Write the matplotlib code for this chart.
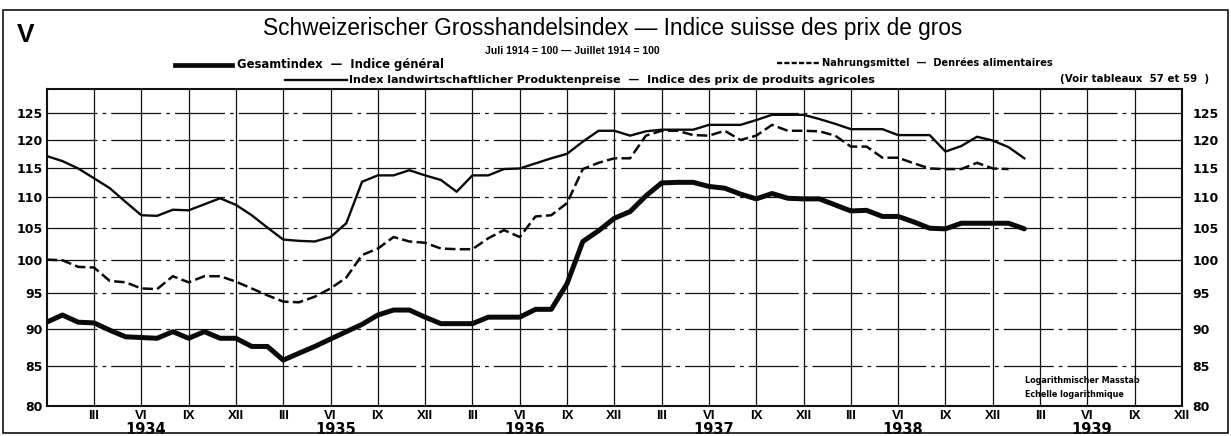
import numpy as np
import matplotlib
matplotlib.use("Agg")
import matplotlib.pyplot as plt
from matplotlib import font_manager
from matplotlib.lines import Line2D
from matplotlib.patches import Rectangle
from matplotlib.ticker import NullLocator, NullFormatter, FixedLocator

# ---------------- data (monthly, index 0 = Dec 1933) ----------------
gesamtindex = [90.9, 91.9, 90.9, 90.8, 89.8, 88.9, 88.8, 88.7, 89.6, 88.7,
               89.6, 88.7, 88.7, 87.6, 87.6, 85.8, 86.7, 87.6, 88.6, 89.6,
               90.6, 91.9, 92.6, 92.6, 91.6, 90.7, 90.7, 90.7, 91.6, 91.6,
               91.6, 92.7, 92.7, 96.4, 102.8, 104.5, 106.5, 107.6, 110.2, 112.4,
               112.5, 112.5, 111.8, 111.5, 110.5, 109.7, 110.6, 109.8, 109.7, 109.7,
               108.7, 107.7, 107.8, 106.8, 106.8, 105.9, 104.9, 104.8, 105.7, 105.7,
               105.7, 105.7, 104.8]
nahrungsmittel = [100.0, 99.9, 98.9, 98.8, 96.8, 96.6, 95.7, 95.6, 97.5, 96.6,
                  97.5, 97.5, 96.7, 95.7, 94.7, 93.8, 93.7, 94.5, 95.7, 97.3,
                  100.7, 101.7, 103.5, 102.8, 102.6, 101.7, 101.6, 101.6, 103.3, 104.6,
                  103.5, 106.8, 107.0, 109.0, 114.8, 115.9, 116.7, 116.7, 120.8, 121.7,
                  121.7, 120.9, 120.8, 121.7, 120.0, 120.8, 122.8, 121.7, 121.7, 121.6,
                  120.8, 118.8, 118.8, 116.8, 116.8, 115.8, 114.9, 114.8, 114.8, 115.9,
                  114.9, 114.8]
landwirtschaft = [117.1, 116.2, 114.9, 113.2, 111.5, 109.2, 107.0, 106.9, 107.9, 107.8,
                  108.8, 109.8, 108.7, 107.0, 105.0, 103.1, 102.9, 102.8, 103.5, 105.7,
                  112.6, 113.7, 113.7, 114.6, 113.7, 112.9, 110.9, 113.7, 113.7, 114.8,
                  114.9, 115.8, 116.7, 117.5, 119.7, 121.7, 121.7, 120.8, 121.6, 121.9,
                  121.9, 121.9, 122.8, 122.8, 122.8, 123.7, 124.7, 124.7, 124.7, 123.9,
                  123.0, 122.0, 122.0, 122.0, 120.9, 120.9, 120.9, 117.9, 118.9, 120.6,
                  119.9, 118.7, 116.7]

month_labels = ["III", "VI", "IX", "XII"] * 6
years = ["1934", "1935", "1936", "1937", "1938", "1939"]
y_ticks = [80, 85, 90, 95, 100, 105, 110, 115, 120, 125]

# ---------------- fonts ----------------
names = {f.name for f in font_manager.fontManager.ttflist}
NARROW = "Liberation Sans Narrow" if "Liberation Sans Narrow" in names else "Liberation Sans"
WIDE = "DejaVu Sans"

W, H = 1231, 436
fig = plt.figure(figsize=(W / 100, H / 100), dpi=100)
fig.patch.set_facecolor("white")
renderer = fig.canvas.get_renderer()

L, R, T, B = 46.7, 1182, 89, 406
ax = fig.add_axes([L / W, 1 - B / H, (R - L) / W, (B - T) / H])
ax.set_yscale("log")
ax.set_xlim(0, 72)
ax.set_ylim(80, 129.7)

# grid
for xv in range(3, 72, 3):
    ax.axvline(xv, color="#111111", lw=0.9, zorder=1)
for yv in y_ticks[1:]:
    ax.axhline(yv, color="#111111", lw=0.9, ls=(0, (40, 4, 3, 4)), zorder=1)

# series
xg = np.arange(len(gesamtindex))
xn = np.arange(len(nahrungsmittel))
xl = np.arange(len(landwirtschaft))
ax.plot(xl, landwirtschaft, color="#0a0a0a", lw=1.7, solid_joinstyle="round", zorder=3)
ax.plot(xn, nahrungsmittel, color="#0a0a0a", lw=1.8, ls=(0, (4.2, 1.7)), zorder=3)
ax.plot(xg, gesamtindex, color="#0a0a0a", lw=3.6, solid_joinstyle="round",
        solid_capstyle="round", zorder=4)

for s in ax.spines.values():
    s.set_linewidth(1.5)
    s.set_color("#111111")

# y ticks (both sides)
ax.yaxis.set_major_locator(FixedLocator(y_ticks))
ax.yaxis.set_minor_locator(NullLocator())
ax.yaxis.set_minor_formatter(NullFormatter())
ax.set_yticklabels([str(v) for v in y_ticks])
ax.tick_params(axis="y", length=0, pad=2.7, labelsize=9)
for t in ax.get_yticklabels():
    t.set_fontweight("bold")
    t.set_family(WIDE)

twin = ax.twinx()
twin.set_yscale("log")
twin.set_ylim(ax.get_ylim())
twin.yaxis.set_major_locator(FixedLocator(y_ticks))
twin.yaxis.set_minor_locator(NullLocator())
twin.yaxis.set_minor_formatter(NullFormatter())
twin.set_yticklabels([str(v) for v in y_ticks])
twin.tick_params(axis="y", length=0, pad=7.5, labelsize=9)
for t in twin.get_yticklabels():
    t.set_fontweight("bold")
    t.set_family(WIDE)
for s in twin.spines.values():
    s.set_visible(False)

# x ticks
ax.set_xticks(range(3, 73, 3))
ax.set_xticklabels(month_labels)
ax.tick_params(axis="x", length=0, pad=3)
for t in ax.get_xticklabels():
    t.set_family(NARROW)
    t.set_fontweight("bold")
    t.set_fontsize(9.5)

year_tf = matplotlib.transforms.blended_transform_factory(ax.transData, ax.transAxes)
for i, yr in enumerate(years):
    ax.text(6.3 + 12 * i, -(429 - B) / (B - T), yr, transform=year_tf, ha="center",
            va="center", fontsize=10.5, fontweight="bold", family=WIDE)


def put(x, y, s, width=None, size=10, ha="left", va="baseline", **kw):
    t = fig.text(x / W, 1 - y / H, s, fontsize=size, ha=ha, va=va, **kw)
    if width:
        bb = t.get_window_extent(renderer)
        t.set_fontsize(size * width / bb.width)
    return t


def fline(x1, x2, y, **kw):
    fig.add_artist(Line2D([x1 / W, x2 / W], [1 - y / H, 1 - y / H],
                          transform=fig.transFigure, color="#0a0a0a", **kw))


# header texts
put(17, 42, "V", size=19, family=NARROW, fontweight="bold")
put(613, 35, "Schweizerischer Grosshandelsindex \u2014 Indice suisse des prix de gros",
    width=700, size=16, ha="center", family=NARROW)
put(572, 54, "Juli 1914 = 100 \u2014 Juillet 1914 = 100", size=7.5,
    ha="center", family=NARROW, fontweight="bold")

fline(175, 232, 65, lw=3.4)
put(237, 68, "Gesamtindex  \u2014  Indice g\u00e9n\u00e9ral", width=206, size=8,
    family=WIDE, fontweight="bold")
fline(777, 820, 63, lw=1.7, ls=(0, (2.2, 0.9)))
put(822, 66, "Nahrungsmittel  \u2014  Denr\u00e9es alimentaires", width=228, size=8,
    family=WIDE, fontweight="bold")
fline(285, 347, 80, lw=1.7)
put(349, 83, "Index landwirtschaftlicher Produktenpreise  \u2014  Indice des prix de produits agricoles",
    width=524, size=8, family=WIDE, fontweight="bold")
put(1060, 82, "(Voir tableaux  57 et 59  )", width=148, size=8, family=WIDE,
    fontweight="bold")

t1 = put(1025, 383, "Logarithmischer Masstab", width=115, size=6, family=WIDE,
         fontweight="bold")
put(1025, 397, "Echelle logarithmique", size=t1.get_fontsize(), family=WIDE,
    fontweight="bold")

# outer frame
fig.add_artist(Rectangle((3 / W, 1 - 433 / H), (1228 - 3) / W, (433 - 10) / H,
                         transform=fig.transFigure, fill=False, lw=1.2,
                         edgecolor="#111111"))

fig.savefig("out.png", dpi=100, facecolor="white")
